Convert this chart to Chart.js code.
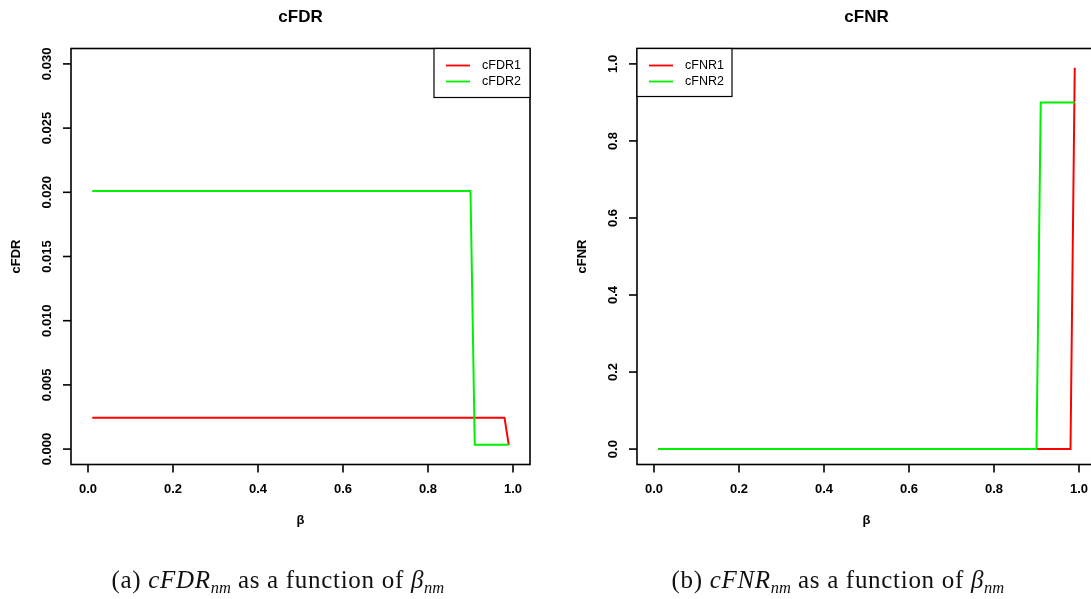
<!DOCTYPE html>
<html>
<head>
<meta charset="utf-8">
<script src="https://cdn.jsdelivr.net/npm/chart.js@4.4.0/dist/chart.umd.min.js"></script>
<style>
  html, body { margin:0; padding:0; background:#fff; overflow:hidden; }
  #wrap { position:relative; width:1091px; height:599px; overflow:hidden; background:#fff; }
  canvas { position:absolute; left:0; top:0; }
  .cap { position:absolute; top:566px; font-family:"Liberation Serif","DejaVu Serif",serif; font-size:25px; letter-spacing:0.7px; color:#111; white-space:nowrap; }
  .cap i { font-style:italic; }
  .cap sub { font-size:0.66em; font-style:italic; vertical-align:-5px; line-height:0; letter-spacing:0; }
</style>
</head>
<body>
<div id="wrap">
  <canvas id="c1" width="1091" height="599"></canvas>
  <canvas id="c2" width="1120" height="599"></canvas>
  <div class="cap" id="capA">(a) <i>cFDR</i><sub>nm</sub> as a function of <i>β</i><sub>nm</sub></div>
  <div class="cap" id="capB">(b) <i>cFNR</i><sub>nm</sub> as a function of <i>β</i><sub>nm</sub></div>
</div>
<script>
// ---- data (breakpoints of the step curves) ----
const betaFDR1 = [0.01, 0.98, 0.99];
const cFDR1    = [0.00245, 0.00245, 0.00033];
const betaFDR2 = [0.01, 0.90, 0.91, 0.99];
const cFDR2    = [0.0201, 0.0201, 0.00033, 0.00033];

const betaFNR1 = [0.01, 0.98, 0.99];
const cFNR1    = [0, 0, 0.99];
const betaFNR2 = [0.01, 0.90, 0.91, 0.99];
const cFNR2    = [0, 0, 0.90, 0.90];

const betaTicks = [0.0, 0.2, 0.4, 0.6, 0.8, 1.0];
const betaTickLabels = ['0.0','0.2','0.4','0.6','0.8','1.0'];
const fdrTicks = [0.000, 0.005, 0.010, 0.015, 0.020, 0.025, 0.030];
const fdrTickLabels = ['0.000','0.005','0.010','0.015','0.020','0.025','0.030'];
const fnrTicks = [0.0, 0.2, 0.4, 0.6, 0.8, 1.0];
const fnrTickLabels = ['0.0','0.2','0.4','0.6','0.8','1.0'];

const RED = '#ff0000', GREEN = '#00f000';
const FONT = '"Liberation Sans", Arial, sans-serif';

function pts(xs, ys) { return xs.map((x, i) => ({x: x, y: ys[i]})); }

const rChrome = {
  id: 'rChrome',
  afterDraw(chart, args, o) {
    const ctx = chart.ctx, a = chart.chartArea, xs = chart.scales.x, ys = chart.scales.y;
    ctx.save();
    ctx.strokeStyle = '#000';
    ctx.fillStyle = '#000';
    ctx.lineWidth = 1.6;
    // box
    ctx.strokeRect(a.left, a.top, a.right - a.left, a.bottom - a.top);
    // x ticks
    ctx.font = 'bold 13px ' + FONT;
    ctx.textAlign = 'center';
    ctx.textBaseline = 'middle';
    o.xTicks.forEach((v, i) => {
      const px = xs.getPixelForValue(v);
      ctx.beginPath(); ctx.moveTo(px, a.bottom); ctx.lineTo(px, a.bottom + 8); ctx.stroke();
      ctx.fillText(o.xLabels[i], px, a.bottom + 25);
    });
    // y ticks
    o.yTicks.forEach((v, i) => {
      const py = ys.getPixelForValue(v);
      ctx.beginPath(); ctx.moveTo(a.left, py); ctx.lineTo(a.left - 8, py); ctx.stroke();
      ctx.save();
      ctx.translate(a.left - 24, py);
      ctx.rotate(-Math.PI / 2);
      ctx.fillText(o.yLabels[i], 0, 0);
      ctx.restore();
    });
    // axis titles
    ctx.fillText(o.xTitle, (a.left + a.right) / 2, a.bottom + 56);
    ctx.save();
    ctx.translate(a.left - 55, (a.top + a.bottom) / 2);
    ctx.rotate(-Math.PI / 2);
    ctx.fillText(o.yTitle, 0, 0);
    ctx.restore();
    // main title
    ctx.font = 'bold 17px ' + FONT;
    ctx.fillText(o.title, (a.left + a.right) / 2, 17);
    // legend
    const lw = o.legW, lh = o.legH;
    const lx = o.legPos === 'right' ? a.right - lw : a.left;
    const ly = a.top;
    ctx.fillStyle = '#fff';
    ctx.fillRect(lx, ly, lw, lh);
    ctx.lineWidth = 1.2;
    ctx.strokeStyle = '#000';
    ctx.strokeRect(lx, ly, lw, lh);
    ctx.font = '12.5px ' + FONT;
    ctx.textAlign = 'left';
    chart.data.datasets.forEach((ds, i) => {
      const yy = ly + 17 + i * 16;
      ctx.strokeStyle = ds.borderColor;
      ctx.lineWidth = 1.8;
      ctx.beginPath(); ctx.moveTo(lx + 12, yy); ctx.lineTo(lx + 36, yy); ctx.stroke();
      ctx.fillStyle = '#000';
      ctx.fillText(ds.label, lx + 48, yy);
    });
    ctx.restore();
  }
};

function makeChart(id, datasets, yMin, yMax, pad, chrome) {
  return new Chart(document.getElementById(id), {
    type: 'line',
    data: { datasets: datasets },
    options: {
      responsive: false,
      animation: false,
      layout: { padding: pad },
      plugins: { legend: { display: false }, tooltip: { enabled: false }, title: { display: false }, rChrome: chrome },
      elements: { point: { radius: 0 }, line: { tension: 0, borderWidth: 2 } },
      scales: {
        x: { type: 'linear', min: -0.04, max: 1.04, display: false },
        y: { type: 'linear', min: yMin, max: yMax, display: false }
      }
    },
    plugins: [rChrome]
  });
}

// order: green drawn after red (on top), as in the reference
makeChart('c1', [
  { label: 'cFDR1', data: pts(betaFDR1, cFDR1), borderColor: RED, fill: false, order: 1 },
  { label: 'cFDR2', data: pts(betaFDR2, cFDR2), borderColor: GREEN, fill: false, order: 0 }
], -0.0012, 0.0312, { left: 71, top: 48.5, right: 1091 - 530, bottom: 134.5 }, {
  xTicks: betaTicks, xLabels: betaTickLabels, yTicks: fdrTicks, yLabels: fdrTickLabels,
  xTitle: 'β', yTitle: 'cFDR', title: 'cFDR', legPos: 'right', legW: 96, legH: 49
});

makeChart('c2', [
  { label: 'cFNR1', data: pts(betaFNR1, cFNR1), borderColor: RED, fill: false, order: 1 },
  { label: 'cFNR2', data: pts(betaFNR2, cFNR2), borderColor: GREEN, fill: false, order: 0 }
], -0.04, 1.04, { left: 637, top: 48.5, right: 1120 - 1096, bottom: 134.5 }, {
  xTicks: betaTicks, xLabels: betaTickLabels, yTicks: fnrTicks, yLabels: fnrTickLabels,
  xTitle: 'β', yTitle: 'cFNR', title: 'cFNR', legPos: 'left', legW: 95, legH: 48
});

// center captions
function center(id, cx) { const el = document.getElementById(id); el.style.left = (cx - el.offsetWidth / 2) + 'px'; }
center('capA', 278);
center('capB', 838);
</script>
</body>
</html>
